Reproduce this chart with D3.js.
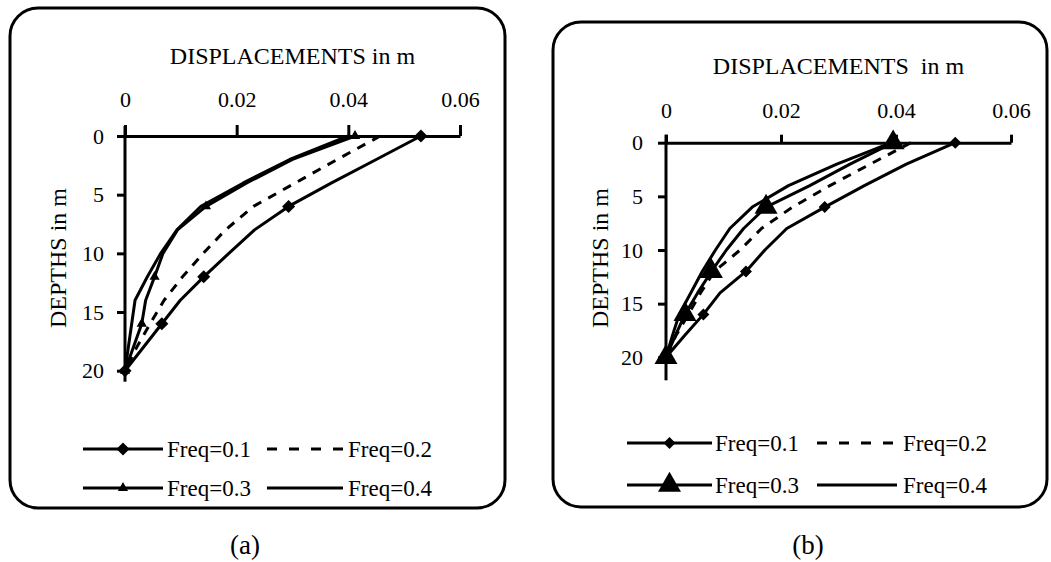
<!DOCTYPE html>
<html>
<head>
<meta charset="utf-8">
<script src="https://cdn.jsdelivr.net/npm/d3@7"></script>
</head>
<body style="margin:0">
<script>
// data
const depths = [0, 2, 4, 6, 8, 10, 12, 14, 16, 18, 20]
const freqNames = ['Freq=0.1', 'Freq=0.2', 'Freq=0.3', 'Freq=0.4']
const markerDepths = [0, 6, 12, 16, 20]
const xTicks = [0, 0.02, 0.04, 0.06]
const yTicks = [0, 5, 10, 15, 20]

// panel (a)
const aFreq01 = [0.053, 0.045, 0.037, 0.0293, 0.0232, 0.0186, 0.0141, 0.0099, 0.0066, 0.0033, 0]
const aFreq02 = [0.0457, 0.038, 0.0305, 0.023, 0.018, 0.014, 0.0103, 0.007, 0.0045, 0.0021, 0]
const aFreq03 = [0.0412, 0.030, 0.0218, 0.0145, 0.0094, 0.0068, 0.0053, 0.0037, 0.003, 0.0015, 0]
const aFreq04 = [0.040, 0.0295, 0.0212, 0.0136, 0.0093, 0.0064, 0.004, 0.0018, 0.0012, 0.0006, 0]

// panel (b)
const bFreq01 = [0.0503, 0.0418, 0.0345, 0.0276, 0.021, 0.0172, 0.0139, 0.0094, 0.0065, 0.0032, 0]
const bFreq02 = [0.0426, 0.0355, 0.0285, 0.022, 0.0166, 0.0129, 0.0084, 0.006, 0.0039, 0.0017, 0]
const bFreq03 = [0.0395, 0.032, 0.025, 0.0174, 0.0135, 0.0105, 0.0079, 0.0055, 0.0033, 0.0016, 0]
const bFreq04 = [0.0392, 0.0297, 0.0213, 0.015, 0.0111, 0.0086, 0.0063, 0.0043, 0.0023, 0.0011, 0]

const svg = d3.select('body').append('svg')
    .attr('width', 1051)
    .attr('height', 562)

function addText(sel, size) {
    return sel.append('text')
        .style('font-family', '"Liberation Serif"')
        .attr('font-size', size)
}

function drawPanel(p, series) {
    let g = svg.append('g')

    g.append('rect')
        .attr('x', p.box[0]).attr('y', p.box[1])
        .attr('width', p.box[2]).attr('height', p.box[3])
        .attr('rx', 28).attr('ry', 28)
        .attr('fill', 'none').attr('stroke', '#000').attr('stroke-width', 3)

    let x = d3.scaleLinear().domain([0, 0.06]).range([p.x0, p.x1])
    let y = d3.scaleLinear().domain([0, 20]).range([p.y0, p.y1])

    // y axis line runs a bit past both ends
    g.append('line')
        .attr('x1', x(0)).attr('x2', x(0))
        .attr('y1', y(0) - p.yExtTop).attr('y2', y(20) + p.yExtBot)
        .attr('stroke', '#000').attr('stroke-width', 3)

    // x axis along depth 0, ticks upward
    let xAxis = g.append('g')
        .attr('transform', `translate(0, ${y(0)})`)
        .call(d3.axisTop(x).tickValues(xTicks).tickSize(p.xTick).tickSizeOuter(0).tickFormat(d => String(d)))
    xAxis.select('.domain').attr('stroke-width', 3)
    xAxis.selectAll('.tick line').attr('stroke-width', 3)
    xAxis.selectAll('.tick text').remove()
    xAxis.selectAll('.tick').each(function (d) {
        addText(d3.select(this), 22)
            .attr('y', -p.xLabelOff)
            .attr('fill', '#000')
            .text(String(d))
    })

    let yAxis = g.append('g')
        .attr('transform', `translate(${x(0)}, 0)`)
        .call(d3.axisLeft(y).tickValues(yTicks).tickSize(8).tickSizeOuter(0))
    yAxis.select('.domain').remove()
    yAxis.selectAll('.tick line').attr('stroke-width', 3)
    yAxis.selectAll('.tick text').remove()
    yAxis.selectAll('.tick').each(function (d) {
        addText(d3.select(this), 22)
            .attr('x', -p.yLabelOff)
            .attr('dy', '0.32em')
            .attr('fill', '#000')
            .text(d)
    })

    addText(g, 24)
        .attr('x', (p.x0 + p.x1) / 2).attr('y', p.titleY)
        .attr('text-anchor', 'middle')
        .attr('xml:space', 'preserve')
        .text(p.title)

    addText(g, 24)
        .attr('transform', `translate(${p.yLabelX}, ${p.yLabelY}) rotate(-90)`)
        .attr('text-anchor', 'middle')
        .text('DEPTHS in m')

    let line = d3.line()
        .x(d => x(d.v))
        .y(d => y(d.d))

    series.forEach(s => {
        let pts = depths.map((d, i) => ({ d: d, v: s.values[i] }))
        g.append('path')
            .datum(pts)
            .attr('d', line)
            .attr('fill', 'none')
            .attr('stroke', '#000')
            .attr('stroke-width', 3)
            .attr('stroke-linejoin', 'round')
            .attr('stroke-dasharray', s.dash ? '9,8' : null)

        if (s.marker) {
            let mk = pts.filter(pt => markerDepths.includes(pt.d))
            g.selectAll(null)
                .data(mk)
                .enter().append('path')
                .attr('d', d3.symbol(s.marker === 'diamond' ? d3.symbolSquare : d3.symbolTriangle, s.marker === 'diamond' ? p.diamondSize : p.triSize))
                .attr('transform', d => `translate(${x(d.v)}, ${y(d.d)})` + (s.marker === 'diamond' ? ' rotate(45)' : ''))
                .attr('fill', '#000')
        }
    })

    // legend, two by two
    series.forEach((s, i) => {
        let col = i % 2
        let row = Math.floor(i / 2)
        let lx0 = p.leg.lineX[col][0]
        let lx1 = p.leg.lineX[col][1]
        let ly = p.leg.rowY[row]
        g.append('line')
            .attr('x1', lx0).attr('x2', lx1).attr('y1', ly).attr('y2', ly)
            .attr('stroke', '#000').attr('stroke-width', 3)
            .attr('stroke-dasharray', s.dash ? '10,12' : null)
        if (s.marker) {
            g.append('path')
                .attr('d', d3.symbol(s.marker === 'diamond' ? d3.symbolSquare : d3.symbolTriangle, s.marker === 'diamond' ? p.diamondSize : p.triSize))
                .attr('transform', `translate(${(lx0 + lx1) / 2}, ${ly})` + (s.marker === 'diamond' ? ' rotate(45)' : ''))
                .attr('fill', '#000')
        }
        addText(g, 23)
            .attr('x', p.leg.textX[col]).attr('y', ly)
            .attr('dy', '0.33em')
            .text(s.name)
    })

    addText(svg, 27)
        .attr('x', p.capX).attr('y', 554)
        .attr('text-anchor', 'middle')
        .text(p.caption)
}

drawPanel({
    box: [10, 8, 495, 500],
    x0: 125, x1: 460, y0: 136, y1: 370.7,
    yExtTop: 10, yExtBot: 11,
    xTick: 11, xLabelOff: 29, yLabelOff: 21,
    title: 'DISPLACEMENTS in m', titleY: 64,
    yLabelX: 66, yLabelY: 258,
    diamondSize: 85, triSize: 45,
    leg: { rowY: [449, 488], lineX: [[83, 163], [267, 343]], textX: [167, 348] },
    capX: 245, caption: '(a)'
}, [
    { name: freqNames[0], values: aFreq01, marker: 'diamond' },
    { name: freqNames[1], values: aFreq02, dash: true },
    { name: freqNames[2], values: aFreq03, marker: 'triangle' },
    { name: freqNames[3], values: aFreq04 }
])

drawPanel({
    box: [553, 22, 494, 485],
    x0: 666, x1: 1011, y0: 142.7, y1: 357.3,
    yExtTop: 8, yExtBot: 23,
    xTick: 8, xLabelOff: 25, yLabelOff: 23,
    title: 'DISPLACEMENTS  in m', titleY: 74,
    yLabelX: 608, yLabelY: 258,
    diamondSize: 72, triSize: 229,
    leg: { rowY: [443, 485], lineX: [[627, 712], [817, 897]], textX: [715, 903] },
    capX: 808, caption: '(b)'
}, [
    { name: freqNames[0], values: bFreq01, marker: 'diamond' },
    { name: freqNames[1], values: bFreq02, dash: true },
    { name: freqNames[2], values: bFreq03, marker: 'triangle' },
    { name: freqNames[3], values: bFreq04 }
])
</script>
</body>
</html>
